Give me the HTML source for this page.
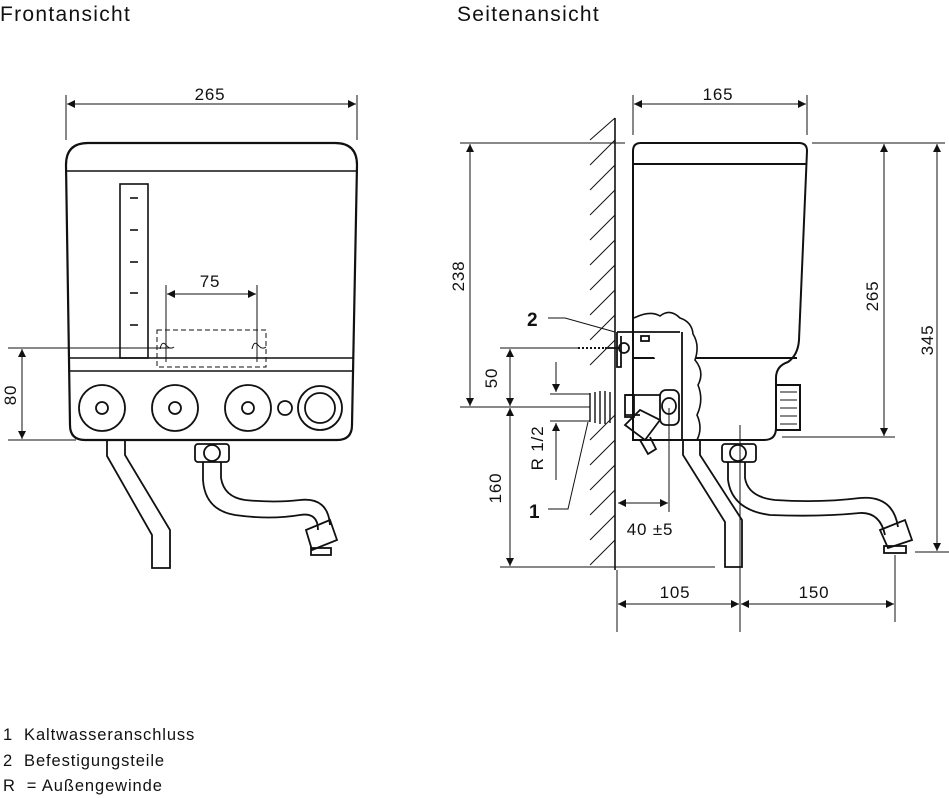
<!DOCTYPE html>
<html><head><meta charset="utf-8"><style>
html,body{margin:0;padding:0;background:#fff;width:949px;height:798px;overflow:hidden}
svg{display:block}
text{font-family:"Liberation Sans",sans-serif;fill:#111}
</style></head><body>
<svg width="949" height="798" viewBox="0 0 949 798" xmlns="http://www.w3.org/2000/svg">
<defs>
<marker id="a" viewBox="0 0 10 10" refX="10" refY="5" markerWidth="12" markerHeight="8" orient="auto-start-reverse" markerUnits="userSpaceOnUse"><path d="M0,0 L10,5 L0,10 z" fill="#111"/></marker>
</defs>
<g stroke="#111" fill="none" stroke-width="1">
<!-- ========== FRONT VIEW ========== -->
<line x1="66" y1="95" x2="66" y2="140"/><line x1="357" y1="95" x2="357" y2="140"/>
<line x1="67" y1="104" x2="356" y2="104" marker-start="url(#a)" marker-end="url(#a)"/>
<path d="M70,425 L66,165 Q66,143 88,143 L335,143 Q357,143 357,165 L352,425 Q352,440 337,440 L85,440 Q70,440 70,425 Z" stroke-width="2.2"/>
<line x1="66" y1="171" x2="357" y2="171" stroke-width="1.6"/>
<line x1="69" y1="358" x2="354" y2="358" stroke-width="1.6"/>
<line x1="69" y1="371" x2="354" y2="371" stroke-width="1.6"/>
<rect x="120" y="184" width="28" height="174" stroke-width="1.6"/>
<g stroke-width="1.6"><line x1="130" y1="198" x2="138" y2="198"/><line x1="130" y1="230" x2="138" y2="230"/><line x1="130" y1="262" x2="138" y2="262"/><line x1="130" y1="293" x2="138" y2="293"/><line x1="130" y1="325" x2="138" y2="325"/></g>
<line x1="166" y1="285" x2="166" y2="362"/><line x1="257" y1="285" x2="257" y2="362"/>
<line x1="167" y1="294" x2="256" y2="294" marker-start="url(#a)" marker-end="url(#a)"/>
<rect x="157" y="330" width="109" height="37" stroke-dasharray="5,3"/>
<path d="M160,349 Q162,340 166,345 Q170,350 174,347" /><path d="M252,349 Q254,340 258,345 Q262,350 266,347"/>
<line x1="8" y1="348" x2="172" y2="348"/><line x1="8" y1="440" x2="76" y2="440"/>
<line x1="22" y1="349" x2="22" y2="439" marker-start="url(#a)" marker-end="url(#a)"/>
<g stroke-width="1.8">
<circle cx="102" cy="408" r="23"/><circle cx="102" cy="408" r="6"/>
<circle cx="175" cy="408" r="23"/><circle cx="175" cy="408" r="6"/>
<circle cx="248" cy="408" r="23"/><circle cx="248" cy="408" r="6"/>
<circle cx="285" cy="408" r="7"/>
<circle cx="320" cy="408" r="22"/><circle cx="320" cy="408" r="15"/>
<path d="M107,440 L107,456 L152,535 L152,568 L170,568 L170,530 L125,455 L125,440"/>
<rect x="195" y="444" width="34" height="18" rx="3"/><circle cx="212" cy="453" r="8"/>
<path d="M203,462 L203,480 Q205,510 235,515 Q270,520 300,515 Q318,512 318,530"/>
<path d="M221,462 L221,478 Q224,497 245,500 Q275,503 300,500 Q328,497 330,525"/>
<path d="M306,530 L330,520 L337,540 L312,550 Z"/><rect x="311" y="548" width="20" height="7"/>
</g>
<!-- ========== SIDE VIEW ========== -->
<line x1="615" y1="118" x2="615" y2="570" stroke-width="1.6"/>
<g stroke-width="1">
<line x1="590" y1="140" x2="615" y2="118"/>
<line x1="590" y1="165" x2="615" y2="140"/><line x1="590" y1="190" x2="615" y2="165"/><line x1="590" y1="215" x2="615" y2="190"/><line x1="590" y1="240" x2="615" y2="215"/><line x1="590" y1="265" x2="615" y2="240"/><line x1="590" y1="290" x2="615" y2="265"/><line x1="590" y1="315" x2="615" y2="290"/><line x1="590" y1="340" x2="615" y2="315"/><line x1="590" y1="365" x2="615" y2="340"/><line x1="590" y1="440" x2="615" y2="415"/><line x1="590" y1="465" x2="615" y2="440"/><line x1="590" y1="490" x2="615" y2="465"/><line x1="590" y1="515" x2="615" y2="490"/><line x1="590" y1="540" x2="615" y2="515"/><line x1="590" y1="565" x2="615" y2="540"/>
</g>
<line x1="633" y1="95" x2="633" y2="135"/><line x1="807" y1="95" x2="807" y2="135"/>
<line x1="634" y1="104" x2="806" y2="104" marker-start="url(#a)" marker-end="url(#a)"/>
<g stroke-width="2">
<path d="M633,440 L633,151 Q633,143 641,143 L799,143 Q807,143 807,151 L799,340 Q798,355 788,362 Q776,366 776,378 L776,428 Q776,440 764,440 Z"/>
<line x1="633" y1="164" x2="806" y2="164"/>
<line x1="633" y1="358" x2="797" y2="358"/>
<rect x="776" y="385" width="24" height="45"/>
</g>
<g><line x1="780" y1="392" x2="797" y2="392"/><line x1="780" y1="400" x2="797" y2="400"/><line x1="780" y1="408" x2="797" y2="408"/><line x1="780" y1="416" x2="797" y2="416"/><line x1="780" y1="424" x2="797" y2="424"/></g>
<path d="M634,318 Q650,310 660,316 Q670,308 680,318 Q692,322 693,334 Q700,345 695,360 Q705,372 698,385 Q704,400 697,415 Q703,428 697,440" fill="#fff" stroke-width="1.6"/>
<g stroke-width="1.8">
<line x1="617" y1="332" x2="680" y2="332"/><line x1="682" y1="332" x2="682" y2="440"/>
<path d="M617,332 L617,367 L621,367 L621,336"/>
<rect x="641" y="336" width="8" height="5"/>
<line x1="633" y1="440" x2="700" y2="440"/>
<circle cx="624" cy="348" r="5"/><line x1="605" y1="348" x2="620" y2="348"/>
<path d="M625,395 L660,395 M625,415 L640,415"/><rect x="625" y="395" width="9" height="22"/>
<rect x="660" y="390" width="19" height="35" rx="6"/><ellipse cx="669" cy="406" rx="7" ry="8"/>
<path d="M625,425 L640,410 L660,420 L645,440 Z"/><path d="M640,440 L648,454 L656,449 L650,437"/>
<path d="M683,440 L683,455 L725,522 L725,567 L742,567 L742,520 L700,455 L700,440"/>
<rect x="722" y="444" width="34" height="18" rx="3"/><circle cx="738" cy="453" r="8"/>
<path d="M728,462 L728,480 Q732,510 770,515 Q820,517 860,513 Q880,512 885,535"/>
<path d="M745,462 L745,478 Q748,497 775,500 Q820,503 860,498 Q893,495 898,527"/>
<path d="M880,530 L905,520 L912,540 L888,548 Z"/><rect x="884" y="546" width="22" height="7"/>
</g>
<g stroke-width="1.4"><line x1="590" y1="393" x2="590" y2="422"/><line x1="595" y1="392" x2="595" y2="423"/><line x1="600" y1="391" x2="600" y2="424"/><line x1="605" y1="391" x2="605" y2="424"/><line x1="610" y1="392" x2="610" y2="423"/></g>
<path d="M578,348 L605,348" stroke-dasharray="2,2" stroke-width="2"/>
<!-- dims left -->
<line x1="460" y1="143" x2="625" y2="143"/><line x1="460" y1="407" x2="590" y2="407"/>
<line x1="470" y1="144" x2="470" y2="406" marker-start="url(#a)" marker-end="url(#a)"/>
<line x1="500" y1="348" x2="578" y2="348"/>
<line x1="510" y1="349" x2="510" y2="406" marker-start="url(#a)" marker-end="url(#a)"/>
<line x1="510" y1="408" x2="510" y2="566" marker-start="url(#a)" marker-end="url(#a)"/>
<line x1="500" y1="567" x2="715" y2="567"/>
<line x1="550" y1="394" x2="590" y2="394"/><line x1="550" y1="421" x2="590" y2="421"/>
<line x1="556" y1="362" x2="556" y2="392" marker-end="url(#a)"/>
<line x1="556" y1="480" x2="556" y2="423" marker-end="url(#a)"/>
<path d="M548,318 L565,318 L615,332"/><path d="M548,509 L568,509 L588,422"/>
<line x1="669" y1="408" x2="669" y2="512"/>
<line x1="618" y1="503" x2="668" y2="503" marker-start="url(#a)" marker-end="url(#a)"/>
<!-- dims right -->
<line x1="812" y1="143" x2="945" y2="143"/><line x1="782" y1="437" x2="895" y2="437"/>
<line x1="884" y1="144" x2="884" y2="436" marker-start="url(#a)" marker-end="url(#a)"/>
<line x1="915" y1="552" x2="949" y2="552"/>
<line x1="937" y1="144" x2="937" y2="551" marker-start="url(#a)" marker-end="url(#a)"/>
<line x1="617" y1="570" x2="617" y2="632"/><line x1="740" y1="425" x2="740" y2="632"/><line x1="895" y1="555" x2="895" y2="622"/>
<line x1="618" y1="604" x2="739" y2="604" marker-start="url(#a)" marker-end="url(#a)"/>
<line x1="741" y1="604" x2="894" y2="604" marker-start="url(#a)" marker-end="url(#a)"/>
</g>
<!-- text -->
<text x="0" y="21" font-size="21" letter-spacing="1.3">Frontansicht</text>
<text x="457" y="21" font-size="21" letter-spacing="1.3">Seitenansicht</text>
<g font-size="17" text-anchor="middle" letter-spacing="0.8">
<text x="210" y="100">265</text>
<text x="210" y="287">75</text>
<text transform="translate(16,395) rotate(-90)">80</text>
<text x="718" y="100">165</text>
<text transform="translate(464,276) rotate(-90)">238</text>
<text transform="translate(497,378) rotate(-90)">50</text>
<text transform="translate(501,488) rotate(-90)">160</text>
<text transform="translate(543,448) rotate(-90)">R 1/2</text>
<text transform="translate(878,296) rotate(-90)">265</text>
<text transform="translate(933,340) rotate(-90)">345</text>
<text x="650" y="535">40 ±5</text>
<text x="675" y="598">105</text>
<text x="814" y="598">150</text>
</g>
<text x="527" y="326" font-size="19" font-weight="bold">2</text>
<text x="529" y="518" font-size="19" font-weight="bold">1</text>
<g font-size="16.5" letter-spacing="0.9">
<text x="3" y="740">1&#160;&#160;Kaltwasseranschluss</text>
<text x="3" y="766">2&#160;&#160;Befestigungsteile</text>
<text x="3" y="791">R&#160;&#160;= Außengewinde</text>
</g>
</svg>
</body></html>
